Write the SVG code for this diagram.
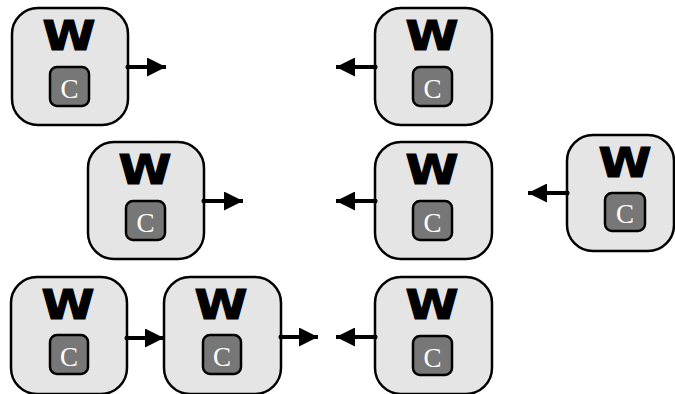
<svg xmlns="http://www.w3.org/2000/svg" width="675" height="394" viewBox="0 0 675 394">
  <style>
    .node { fill: #e5e5e5; stroke: #000; stroke-width: 2.5; }
    .core { fill: #777; stroke: #000; stroke-width: 2.5; }
    .w { font-family: "DejaVu Sans", "Liberation Sans", sans-serif; font-weight: bold; font-size: 40px; fill: #000; stroke: #000; stroke-width: 1.2; text-anchor: middle; }
    .c { font-family: "Liberation Serif", serif; font-size: 27px; fill: #fff; text-anchor: middle; }
    .link { stroke: #000; stroke-width: 3.8; fill: none; marker-end: url(#head); marker-start: url(#dot); }
  </style>
  <defs>
    <marker id="head" markerUnits="userSpaceOnUse" markerWidth="19" markerHeight="19" refX="19" refY="9.5" orient="auto" viewBox="0 0 19 19">
      <path d="M0,0 L19,9.5 L0,19 Z" fill="#000"/>
    </marker>
    <marker id="dot" markerUnits="userSpaceOnUse" markerWidth="6" markerHeight="6" refX="3" refY="3" viewBox="0 0 6 6">
      <circle cx="3" cy="3" r="2.5" fill="#000"/>
    </marker>
  </defs>

  <g id="w-top-left">
    <rect class="node" x="12" y="8" width="116" height="117" rx="26"/>
    <text class="w" transform="translate(69 50) scale(1.2 1)">W</text>
    <rect class="core" x="50" y="67" width="39" height="39" rx="7"/>
    <text class="c" x="69.5" y="98">C</text>
  </g>
  <g id="w-top-right">
    <rect class="node" x="375" y="8" width="117" height="117" rx="26"/>
    <text class="w" transform="translate(432 50) scale(1.2 1)">W</text>
    <rect class="core" x="413" y="67" width="39" height="39" rx="7"/>
    <text class="c" x="432.5" y="98">C</text>
  </g>
  <g id="w-mid-left">
    <rect class="node" x="88" y="142" width="116" height="117" rx="26"/>
    <text class="w" transform="translate(145 184) scale(1.2 1)">W</text>
    <rect class="core" x="126" y="201" width="39" height="39" rx="7"/>
    <text class="c" x="145.5" y="232">C</text>
  </g>
  <g id="w-mid-center">
    <rect class="node" x="375" y="142" width="117" height="117" rx="26"/>
    <text class="w" transform="translate(432 184) scale(1.2 1)">W</text>
    <rect class="core" x="413" y="201" width="39" height="39" rx="7"/>
    <text class="c" x="432.5" y="232">C</text>
  </g>
  <g id="w-mid-right">
    <rect class="node" x="567" y="135" width="107" height="116" rx="26"/>
    <text class="w" transform="translate(625 177) scale(1.2 1)">W</text>
    <rect class="core" x="605" y="193" width="40" height="38" rx="7"/>
    <text class="c" x="625" y="223">C</text>
  </g>
  <g id="w-bottom-left">
    <rect class="node" x="11" y="277" width="116" height="117" rx="26"/>
    <text class="w" transform="translate(68 319) scale(1.2 1)">W</text>
    <rect class="core" x="50" y="335" width="38" height="39" rx="7"/>
    <text class="c" x="69" y="366">C</text>
  </g>
  <g id="w-bottom-center">
    <rect class="node" x="164" y="277" width="117" height="117" rx="26"/>
    <text class="w" transform="translate(221 319) scale(1.2 1)">W</text>
    <rect class="core" x="203" y="335" width="38" height="39" rx="7"/>
    <text class="c" x="222" y="366">C</text>
  </g>
  <g id="w-bottom-right">
    <rect class="node" x="375" y="277" width="117" height="117" rx="26"/>
    <text class="w" transform="translate(432 319) scale(1.2 1)">W</text>
    <rect class="core" x="413" y="336" width="39" height="39" rx="7"/>
    <text class="c" x="432.5" y="367">C</text>
  </g>

  <g id="connectors">
    <line class="link" x1="128" y1="67" x2="166" y2="67"/>
    <line class="link" x1="375" y1="67" x2="336" y2="67"/>
    <line class="link" x1="204" y1="201" x2="243" y2="201"/>
    <line class="link" x1="375" y1="201" x2="336" y2="201"/>
    <line class="link" x1="567" y1="193" x2="528" y2="193"/>
    <line class="link" x1="127" y1="338" x2="164" y2="338"/>
    <line class="link" x1="281" y1="337" x2="318" y2="337"/>
    <line class="link" x1="375" y1="337" x2="336" y2="337"/>
  </g>
</svg>
